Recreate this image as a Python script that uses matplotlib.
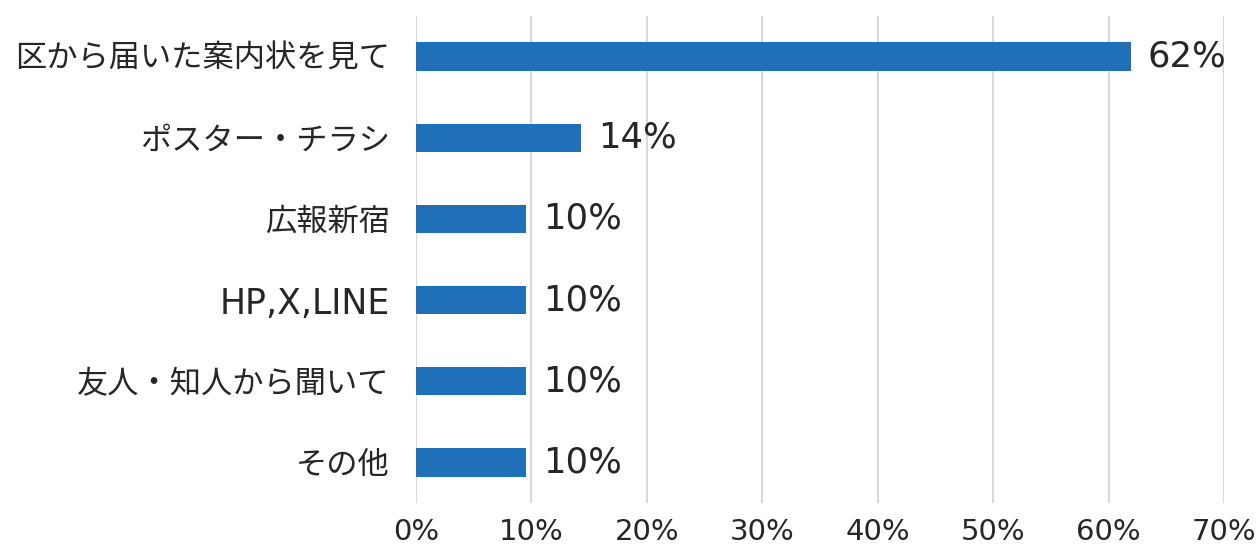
import matplotlib
matplotlib.use("Agg")
import matplotlib.pyplot as plt

plt.rcParams['font.family'] = ['DejaVu Sans', 'Noto Sans CJK JP']

# survey: how did you hear about it (share of respondents, %)
categories = ["区から届いた案内状を見て", "ポスター・チラシ", "広報新宿", "HP,X,LINE",
              "友人・知人から聞いて", "その他"]
values = [61.9, 14.3, 9.5, 9.5, 9.5, 9.5]
value_labels = ["62%", "14%", "10%", "10%", "10%", "10%"]
xticks = [0, 10, 20, 30, 40, 50, 60, 70]
xtick_labels = ["0%", "10%", "20%", "30%", "40%", "50%", "60%", "70%"]

bar_color = "#1f70b8"
text_color = "#262626"

fig = plt.figure(figsize=(12.6, 5.47), dpi=100)
ax = fig.add_axes([0.3302, 0.0804, 0.6413, 0.8903])

ypos = list(range(len(categories)))
ax.barh(ypos, values, height=0.35, color=bar_color, zorder=3)

for y, v, lab in zip(ypos, values, value_labels):
    ax.text(v + 1.5, y, lab, va="center", ha="left", fontsize=25.5, color=text_color)

ax.set_xlim(0, 70)
ax.set_ylim(len(categories) - 0.5, -0.5)
ax.set_xticks(xticks)
ax.set_xticklabels(xtick_labels, fontsize=21, color=text_color)
ax.set_yticks(ypos)
ax.set_yticklabels(categories, fontsize=22.5, color=text_color)
# latin-only label: DejaVu runs a bit small next to the CJK glyphs
for t in ax.get_yticklabels():
    if t.get_text().isascii():
        t.set_fontsize(25)
ax.tick_params(axis="x", length=0, pad=11)
ax.tick_params(axis="y", length=0, pad=19)

ax.grid(axis="x", color="#d9d9d9", linewidth=1.5, zorder=0)
for s in ax.spines.values():
    s.set_visible(False)

fig.savefig("out.png", dpi=100)
